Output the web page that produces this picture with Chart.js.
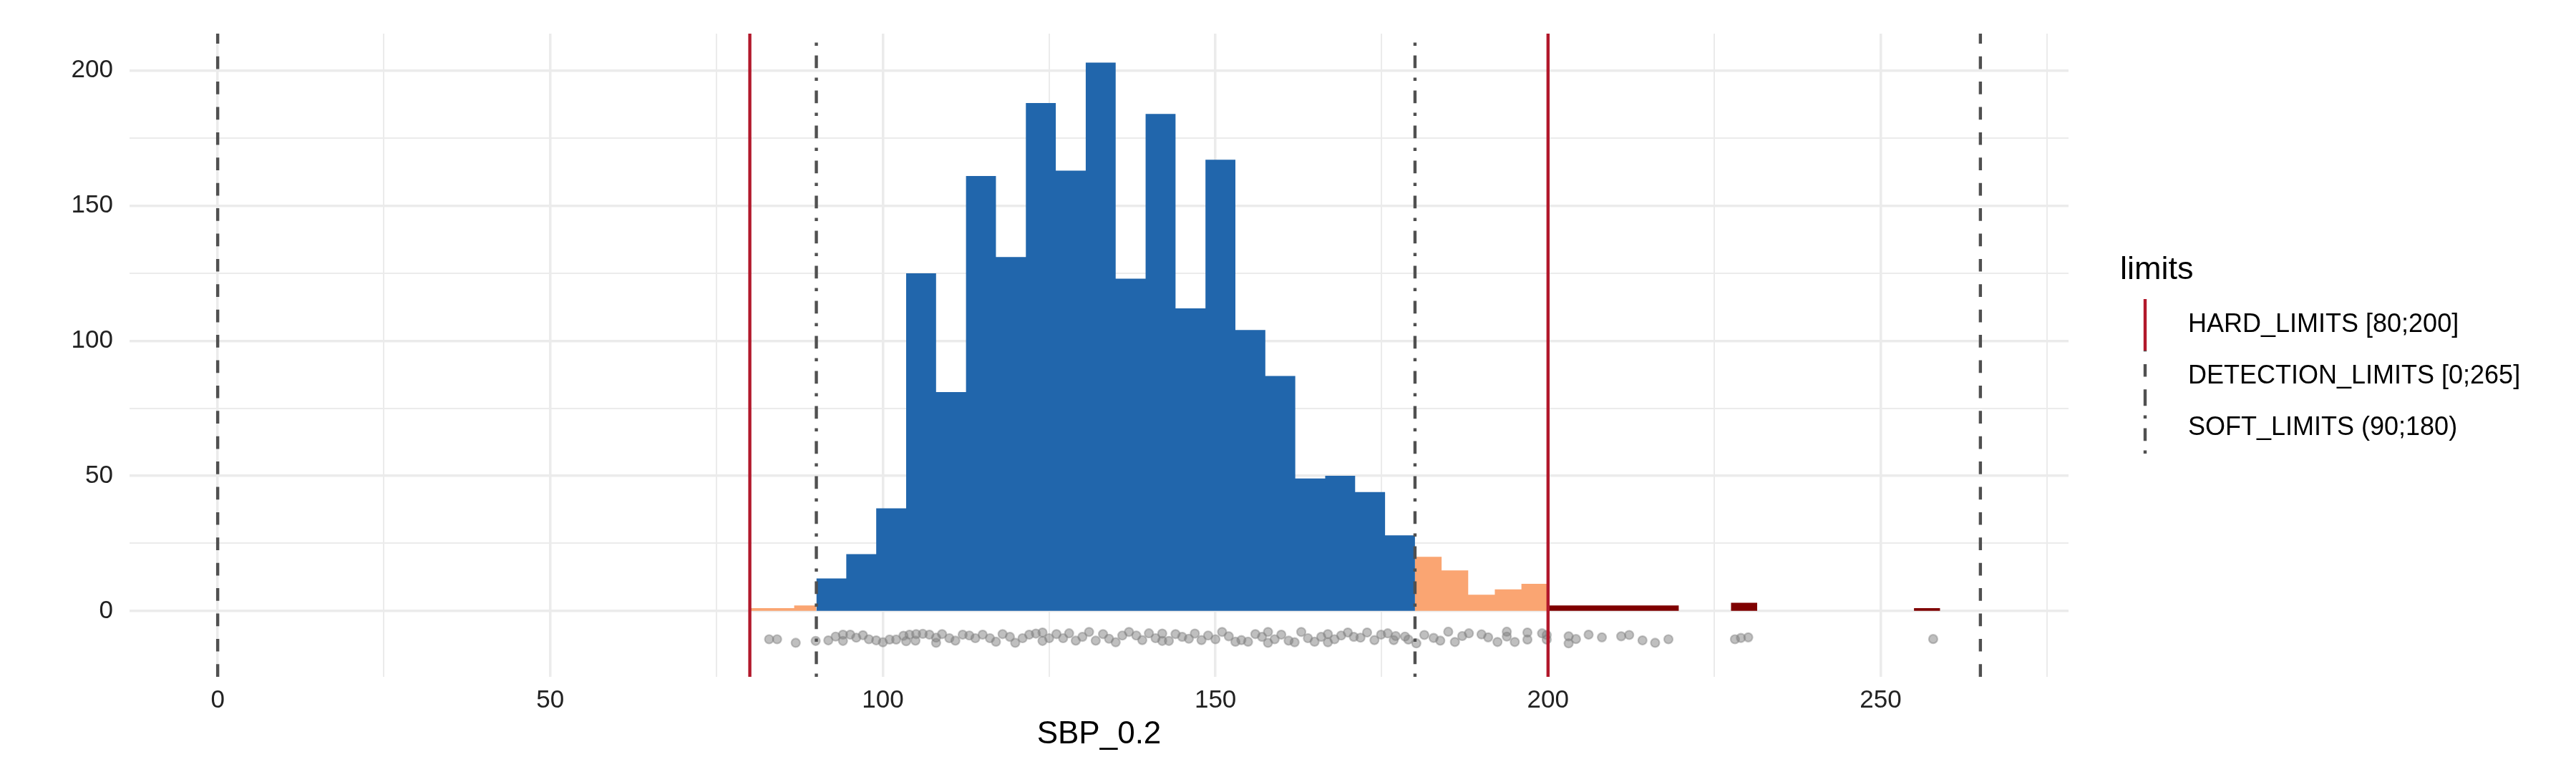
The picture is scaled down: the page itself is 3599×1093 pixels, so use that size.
<!DOCTYPE html>
<html>
<head>
<meta charset="utf-8">
<script src="https://cdn.jsdelivr.net/npm/chart.js@4/dist/chart.umd.min.js"></script>
<style>
  html, body { margin: 0; padding: 0; background: #fff; }
  #wrap { width: 3599px; height: 1093px; }
</style>
</head>
<body>
<div id="wrap"><canvas id="chartLimits" width="3599" height="1093"></canvas></div>
<script>
// histogram bins, split by the limit regions
const lowBreaks = [80, 83.33, 86.67, 90];
const lowCounts = [1, 1, 2];
const softBreaks = [90, 94.5, 99, 103.5, 108, 112.5, 117, 121.5, 126, 130.5, 135, 139.5, 144, 148.5, 153, 157.5, 162, 166.5, 171, 175.5, 180];
const softCounts = [12, 21, 38, 125, 81, 161, 131, 188, 163, 203, 123, 184, 112, 167, 104, 87, 49, 50, 44, 28];
const highBreaks = [180, 184, 188, 192, 196, 200];
const highCounts = [20, 15, 6, 8, 10];
const hardBreaks = [200, 203.93, 207.86, 211.79, 215.72, 219.65, 223.58, 227.51, 231.44, 235.37, 239.3, 243.23, 247.16, 251.09, 255.02, 258.95];
const hardCounts = [2, 2, 2, 2, 2, 0, 0, 3, 0, 0, 0, 0, 0, 0, 1];

// observations (jittered strip under the bars)
const obsX = [82.9, 84.1, 86.9, 89.9,
  91.8, 92.9, 94.0, 94.0, 95.1, 96.0, 97.0, 97.9, 99.0, 100.0, 101.0, 102.0, 103.1, 103.5, 104.0, 105.0, 104.9, 106.0, 107.0, 108.0, 108.0, 108.9, 110.0, 110.9, 112.0, 113.0,
  113.9, 115.0, 116.1, 117.0, 118.0, 119.1, 119.9, 121.0, 122.0, 123.0, 124.0, 124.0, 125.0, 126.1, 127.1, 128.0, 129.0, 130.0, 131.0, 132.0, 133.1, 134.0, 135.0, 136.0, 137.0, 138.1, 139.0, 140.0, 141.0, 142.0, 142.0, 143.0, 144.0, 145.0,
  146.0, 146.9, 147.9, 148.9, 150.0, 151.0, 152.0, 153.0, 153.9, 154.9, 156.0, 157.0, 157.9, 157.9, 158.9, 159.9, 161.0, 161.9, 162.9, 163.9, 164.9, 165.9, 166.9, 166.9, 167.9, 168.9, 169.9, 170.8, 171.8, 172.8, 173.9, 174.9, 175.9, 176.8,
  177.1, 178.5, 179.0, 180.2, 181.4, 182.8, 183.8, 185.0, 186.0, 187.1, 188.1, 190.0, 191.0, 192.4, 193.8, 193.8, 195.0, 196.9, 196.9, 199.1, 199.8, 199.8,
  203.1, 203.1, 204.2, 206.1, 208.1, 211.0, 212.2, 214.2, 216.1, 218.1, 228.1, 229.0, 230.1, 257.9];
const obsY = [-10.5, -10.5, -11.8, -11.1,
  -10.9, -9.5, -8.8, -11.1, -8.8, -9.9, -9.0, -10.5, -10.9, -11.6, -10.6, -10.6, -9.2, -11.2, -8.8, -8.6, -11.0, -8.5, -8.8, -9.9, -11.8, -8.6, -10.1, -11.0, -8.8, -9.1,
  -10.1, -8.8, -10.1, -11.4, -8.6, -9.6, -11.8, -10.1, -8.8, -8.4, -8.0, -11.1, -10.1, -8.6, -10.1, -8.3, -11.0, -9.6, -7.8, -11.0, -8.6, -10.3, -11.6, -9.1, -7.8, -9.1, -10.8, -8.3, -10.1, -8.4, -11.1, -11.1, -8.6, -9.6,
  -10.3, -8.4, -10.8, -9.1, -10.5, -7.8, -9.4, -11.4, -10.8, -11.4, -8.6, -9.6, -7.8, -11.8, -10.5, -8.8, -11.0, -11.6, -7.8, -10.1, -11.4, -9.6, -8.6, -11.6, -10.5, -9.1, -8.0, -9.6, -9.9, -8.0, -10.8, -8.8, -8.3, -10.8,
  -9.3, -9.5, -10.6, -12.0, -8.9, -10.0, -11.0, -7.7, -11.5, -9.3, -8.3, -8.7, -9.8, -11.5, -7.7, -9.5, -11.5, -8.0, -10.6, -8.3, -8.9, -10.6,
  -9.4, -12.0, -10.4, -8.8, -9.8, -9.4, -8.9, -10.9, -11.8, -10.5, -10.5, -10.0, -9.8, -10.4];

// limits
const hardLimits = [80, 200];
const detectionLimits = [0, 265];
const softLimits = [90, 180];
const legendTitle = 'limits';
const legendLabels = ['HARD_LIMITS [80;200]', 'DETECTION_LIMITS [0;265]', 'SOFT_LIMITS (90;180)'];

// axes
const xRange = [-13.25, 278.25];
const yRange = [-24.4, 213.7];
const xGridTicks = [0, 25, 50, 75, 100, 125, 150, 175, 200, 225, 250, 275];
const xLabelTicks = [0, 50, 100, 150, 200, 250];
const yGridTicks = [0, 25, 50, 75, 100, 125, 150, 175, 200];
const yLabelTicks = [0, 50, 100, 150, 200];
const xTitle = 'SBP_0.2';

const FONT = '"Liberation Sans", Arial, Helvetica, sans-serif';
const RED = '#B2182B';
const GREY_LINE = '#505050';
const DASHED = [17.7, 17.7];
const DOTDASH = [4.4, 13.4, 17.8, 13.4];

// step outline of a histogram segment, closed at y = 0
const stepPoints = (breaks, counts) => {
    const pts = [{ x: breaks[0], y: 0 }];
    counts.forEach((c, i) => {
        pts.push({ x: breaks[i], y: c });
        pts.push({ x: breaks[i + 1], y: c });
    });
    pts.push({ x: breaks[breaks.length - 1], y: 0 });
    return pts;
};

const barSet = (breaks, counts, color) => ({
    data: stepPoints(breaks, counts),
    backgroundColor: color,
    borderWidth: 0,
    pointRadius: 0,
    fill: 'origin',
    tension: 0,
    order: 3
});

// vertical line drawn bottom -> top like ggplot does
const vline = (x, color, dash) => ({
    data: [{ x: x, y: yRange[0] }, { x: x, y: yRange[1] }],
    borderColor: color,
    borderWidth: 4.4,
    borderDash: dash,
    borderCapStyle: 'butt',
    pointRadius: 0,
    fill: false,
    order: 0
});

const datasets = [
    barSet(lowBreaks, lowCounts, '#FAA572'),
    barSet(softBreaks, softCounts, '#2166AC'),
    barSet(highBreaks, highCounts, '#FAA572'),
    barSet(hardBreaks, hardCounts, '#7F0000'),
    {
        data: obsX.map((x, i) => ({ x: x, y: obsY[i] })),
        showLine: false,
        pointRadius: 6,
        pointBorderWidth: 2.2,
        pointBackgroundColor: 'rgba(128, 128, 128, 0.5)',
        pointBorderColor: 'rgba(128, 128, 128, 0.45)',
        order: 1
    },
    ...detectionLimits.map(x => vline(x, GREY_LINE, DASHED)),
    ...softLimits.map(x => vline(x, GREY_LINE, DOTDASH)),
    ...hardLimits.map(x => vline(x, RED, []))
];

const legendStyles = [
    { color: RED, dash: [] },
    { color: GREY_LINE, dash: DASHED },
    { color: GREY_LINE, dash: DOTDASH }
];

const limitsLegend = {
    id: 'limitsLegend',
    afterDraw(chart) {
        const ctx = chart.ctx;
        ctx.save();
        ctx.fillStyle = '#000';
        ctx.textBaseline = 'middle';
        ctx.textAlign = 'left';
        ctx.font = `45px ${FONT}`;
        ctx.fillText(legendTitle, 2962, 378);
        ctx.font = `36px ${FONT}`;
        legendLabels.forEach((label, i) => {
            const top = 418 + i * 72;
            const st = legendStyles[i];
            ctx.strokeStyle = st.color;
            ctx.lineWidth = 4.4;
            ctx.lineCap = 'butt';
            ctx.setLineDash(st.dash);
            ctx.beginPath();
            ctx.moveTo(2997, top + 72);
            ctx.lineTo(2997, top);
            ctx.stroke();
            ctx.setLineDash([]);
            ctx.fillText(label, 3057, top + 36);
        });
        ctx.restore();
    }
};

const isIn = (list) => (ctx) => list.includes(ctx.tick.value) ? 3.5 : 2;

const chartLimits = new Chart(document.getElementById('chartLimits').getContext('2d'), {
    type: 'line',
    data: { datasets: datasets },
    options: {
        responsive: false,
        animation: false,
        events: [],
        layout: { padding: { left: 0, top: 47, right: 709, bottom: 0 } },
        plugins: {
            legend: { display: false },
            tooltip: { enabled: false }
        },
        scales: {
            x: {
                type: 'linear',
                min: xRange[0],
                max: xRange[1],
                afterBuildTicks: s => { s.ticks = xGridTicks.map(v => ({ value: v })); },
                afterFit: s => { s.height = 147; },
                border: { display: false },
                grid: { color: '#EBEBEB', lineWidth: isIn(xLabelTicks), drawTicks: false },
                ticks: {
                    autoSkip: false,
                    maxRotation: 0,
                    padding: 12,
                    color: '#222',
                    font: { family: FONT, size: 35 },
                    callback: v => xLabelTicks.includes(v) ? String(v) : ''
                },
                title: {
                    display: true,
                    text: xTitle,
                    color: '#000',
                    font: { family: FONT, size: 44 },
                    padding: { top: 0, bottom: 40 }
                }
            },
            y: {
                type: 'linear',
                min: yRange[0],
                max: yRange[1],
                afterBuildTicks: s => { s.ticks = yGridTicks.map(v => ({ value: v })); },
                afterFit: s => { s.width = 181; },
                border: { display: false },
                grid: { color: '#EBEBEB', lineWidth: isIn(yLabelTicks), drawTicks: false },
                ticks: {
                    autoSkip: false,
                    padding: 23,
                    color: '#222',
                    font: { family: FONT, size: 35 },
                    callback: v => yLabelTicks.includes(v) ? String(v) : ''
                }
            }
        }
    },
    plugins: [limitsLegend]
});
</script>
</body>
</html>
